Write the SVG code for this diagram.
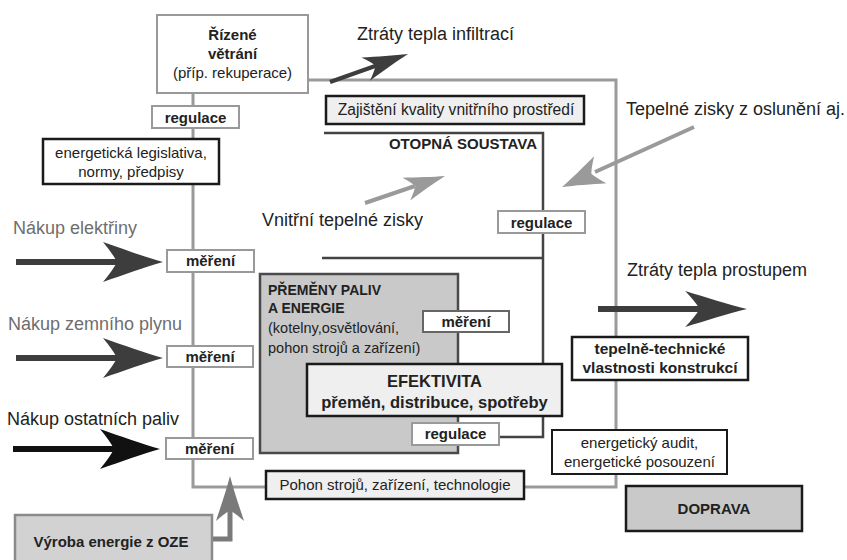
<svg xmlns="http://www.w3.org/2000/svg" width="847" height="560" viewBox="0 0 847 560">
<style>
text{font-family:"Liberation Sans",Arial,sans-serif;fill:#222}
.big{font-size:18px}
.sm{font-size:15px}
.b{font-weight:bold}
.c{text-anchor:middle}
.gbox{fill:#fff;stroke:#999;stroke-width:2}
.kbox{fill:#fff;stroke:#1a1a1a;stroke-width:2.5}
.lbox{fill:#efefef;stroke:#1a1a1a;stroke-width:2.5}
.dbox{fill:#c9c9c9;stroke:#1a1a1a;stroke-width:2.5}
.frame{fill:none;stroke:#9a9a9a;stroke-width:3}
.otop{fill:none;stroke:#444;stroke-width:2.5}
</style>
<defs>
<path id="head" d="M0,0 C-18,-5 -40,-13 -60,-20 Q-50,-8 -46,0 Q-50,8 -60,20 C-40,13 -18,5 0,0 Z"/>
</defs>
<rect width="847" height="560" fill="#fff"/>

<g id="connectors">
<path class="frame" d="M308,80 H616 V487 H193 V93"/>
<path class="otop" d="M324,133 H543 V437 H499"/>
<path class="otop" d="M322,258 H543"/>
<g fill="#3d3d3d" stroke="#3d3d3d">
<line x1="16" y1="262" x2="120" y2="262" stroke-width="6"/>
<use href="#head" transform="translate(163,262)" stroke="none"/>
<line x1="16" y1="358" x2="120" y2="358" stroke-width="6"/>
<use href="#head" transform="translate(163,358)" stroke="none"/>
<line x1="598" y1="309" x2="700" y2="309" stroke-width="6"/>
<use href="#head" transform="translate(747,309) scale(1.03,0.9)" stroke="none"/>
<line x1="330" y1="82" x2="378" y2="65" stroke-width="4"/>
<use href="#head" transform="translate(408,54) rotate(-19.7) scale(0.75,0.62)" stroke="none"/>
</g>
<g fill="#111" stroke="#111">
<line x1="13" y1="449" x2="118" y2="449" stroke-width="6"/>
<use href="#head" transform="translate(160,449)" stroke="none"/>
</g>
<g fill="#9a9a9a" stroke="#9a9a9a">
<line x1="365" y1="203" x2="415" y2="186" stroke-width="4"/>
<use href="#head" transform="translate(445,176) rotate(-18.6) scale(0.68,0.6)" stroke="none"/>
<line x1="694" y1="127" x2="595" y2="172" stroke-width="4"/>
<use href="#head" transform="translate(562,187) rotate(155.6) scale(0.7,0.74)" stroke="none"/>
</g>
<g fill="#7a7a7a" stroke="#7a7a7a">
<path d="M212,539 H230 V508" fill="none" stroke-width="5"/>
<use href="#head" transform="translate(230,476) rotate(-90) scale(0.75,0.7)" stroke="none"/>
</g>
</g>

<g id="rizene">
<rect class="gbox" x="157" y="15" width="151" height="78"/>
<text class="sm b c" x="232.5" y="40">Řízené</text>
<text class="sm b c" x="232.5" y="59">větrání</text>
<text class="sm c" x="232.5" y="78">(příp. rekuperace)</text>
</g>
<g id="regulace1">
<rect class="gbox" x="152" y="106" width="87" height="22"/>
<text class="sm b c" x="195.5" y="123">regulace</text>
</g>
<g id="legislativa">
<rect class="kbox" x="43" y="139" width="176" height="45"/>
<text class="sm c" x="131" y="158">energetická legislativa,</text>
<text class="sm c" x="131" y="177">normy, předpisy</text>
</g>
<g id="infiltrace">
<text class="big" x="357" y="40">Ztráty tepla infiltrací</text>
</g>
<g id="zajisteni">
<rect class="lbox" x="326" y="96" width="258" height="28"/>
<text class="c" x="456" y="115" style="font-size:15.6px">Zajištění kvality vnitřního prostředí</text>
</g>
<g id="otopna">
<text class="sm b" x="537" y="149" text-anchor="end">OTOPNÁ SOUSTAVA</text>
</g>
<g id="osluneni">
<text class="big" x="626" y="115">Tepelné zisky z oslunění aj.</text>
</g>
<g id="vnitrni">
<text class="big" x="262" y="226">Vnitřní tepelné zisky</text>
</g>
<g id="regulace2">
<rect class="gbox" x="498" y="211" width="87" height="22"/>
<text class="sm b c" x="541.5" y="228">regulace</text>
</g>
<g id="elektrina">
<text class="big" x="13" y="234" style="fill:#6e6e6e">Nákup elektřiny</text>
</g>
<g id="mereni1">
<rect class="gbox" x="167" y="250" width="87" height="22"/>
<text class="sm b c" x="210.5" y="266">měření</text>
</g>
<g id="plyn">
<text class="big" x="8" y="330" style="fill:#6e6e6e">Nákup zemního plynu</text>
</g>
<g id="mereni2">
<rect class="gbox" x="167" y="346" width="86" height="21"/>
<text class="sm b c" x="210" y="362">měření</text>
</g>
<g id="paliva">
<text class="big" x="7" y="425">Nákup ostatních paliv</text>
</g>
<g id="mereni3">
<rect class="gbox" x="166" y="438" width="87" height="21"/>
<text class="sm b c" x="209.5" y="454">měření</text>
</g>
<g id="premeny">
<rect x="260" y="274" width="198" height="179" fill="#c9c9c9" stroke="#4a4a4a" stroke-width="2.5"/>
<text class="b" x="268" y="295" style="font-size:14px">PŘEMĚNY PALIV</text>
<text class="b" x="268" y="313" style="font-size:14px">A ENERGIE</text>
<text x="268" y="333" style="font-size:14.5px">(kotelny,osvětlování,</text>
<text x="268" y="353" style="font-size:14.5px">pohon strojů a zařízení)</text>
</g>
<g id="mereni4">
<rect x="423" y="311" width="86" height="21" fill="#fff" stroke="#666" stroke-width="2"/>
<text class="sm b c" x="466" y="327">měření</text>
</g>
<g id="efektivita">
<rect class="lbox" x="307" y="364" width="255" height="52"/>
<text class="b c" x="434.5" y="387" style="font-size:16.5px">EFEKTIVITA</text>
<text class="b c" x="434.5" y="408" style="font-size:16.5px">přeměn, distribuce, spotřeby</text>
</g>
<g id="regulace3">
<rect class="gbox" x="412" y="423" width="87" height="22"/>
<text class="sm b c" x="455.5" y="439">regulace</text>
</g>
<g id="prostup">
<text class="big" x="627" y="276">Ztráty tepla prostupem</text>
</g>
<g id="tepelne">
<rect class="kbox" x="572" y="337" width="176" height="43"/>
<text class="b c" x="660" y="354" style="font-size:15.5px">tepelně-technické</text>
<text class="b c" x="660" y="373" style="font-size:15.5px">vlastnosti konstrukcí</text>
</g>
<g id="audit">
<rect class="kbox" x="552" y="430" width="175" height="44" style="stroke-width:2"/>
<text class="sm c" x="639.5" y="448">energetický audit,</text>
<text class="sm c" x="639.5" y="467">energetické posouzení</text>
</g>
<g id="pohon">
<rect class="lbox" x="266" y="471" width="258" height="28"/>
<text class="sm c" x="395" y="490">Pohon strojů, zařízení, technologie</text>
</g>
<g id="doprava">
<rect class="dbox" x="626" y="486" width="176" height="45"/>
<text class="sm b c" x="714" y="514">DOPRAVA</text>
</g>
<g id="oze">
<rect x="15" y="515" width="197" height="55" fill="#d2d2d2" stroke="#8a8a8a" stroke-width="2.5"/>
<text class="sm b c" x="111" y="547">Výroba energie z OZE</text>
</g>
</svg>
